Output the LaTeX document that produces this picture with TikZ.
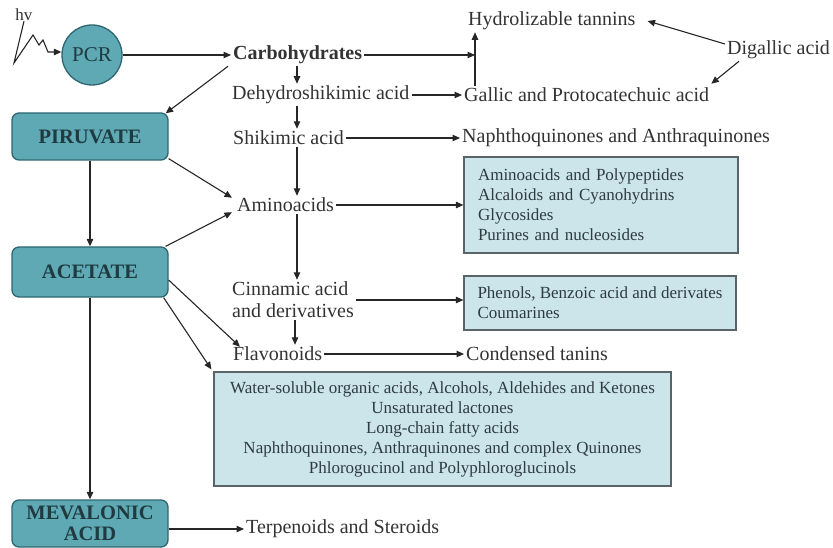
\documentclass[tikz,border=0pt]{standalone}
\usepackage{fontspec}
\setmainfont{Liberation Serif}
\usetikzlibrary{arrows.meta}
\definecolor{tealfill}{HTML}{5EA9B3}
\definecolor{tealline}{HTML}{2F6670}
\definecolor{boxfill}{HTML}{CCE5EA}
\definecolor{boxline}{HTML}{5A6468}
\definecolor{txt}{HTML}{333333}
\definecolor{boxtxt}{HTML}{2E3C42}
\definecolor{nodetxt}{HTML}{1F3A40}
\begin{document}
\begin{tikzpicture}[x=1pt,y=-1pt,
  >={Triangle[length=7.5pt,width=6.5pt]},
  conn/.style={draw=black!85,line width=1.1pt,->},
  lbl/.style={text=txt,font=\fontsize{20}{22}\selectfont,inner sep=2pt,anchor=west},
  lbltwo/.style={lbl,align=left,font=\fontsize{20}{22}\selectfont},
  rbox/.style={draw=tealline,fill=tealfill,line width=1.3pt,rounded corners=7pt,
    minimum width=156pt,text=nodetxt,font=\fontsize{20.5}{21}\selectfont\bfseries,align=center,inner sep=0pt},
  listbox/.style={draw=boxline,fill=boxfill,line width=1.2pt,text=boxtxt,
    font=\fontsize{17}{20}\selectfont,inner sep=0pt},
]
\useasboundingbox (0,0) rectangle (833,548);

% nodes
\node[text=txt,font=\fontsize{17}{20}\selectfont,inner sep=0pt] (hv) at (24,15) {hv};
\node[circle,draw=tealline,fill=tealfill,line width=1.3pt,minimum size=60pt,inner sep=0pt,
  text=nodetxt,font=\fontsize{21}{22}\selectfont] (pcr) at (92,55) {PCR};
\node[lbl,font=\fontsize{20}{22}\selectfont\bfseries] (carb) at (231,55) {Carbohydrates};
\node[lbl] (hydro) at (466,21) {Hydrolizable tannins};
\node[lbl] (digal) at (725,50) {Digallic acid};
\node[lbl] (dehyd) at (230,95) {Dehydroshikimic acid};
\node[lbl] (gallic) at (462,95) {Gallic and Protocatechuic acid};
\node[lbl] (shik) at (231,138) {Shikimic acid};
\node[lbl] (naph) at (460,138) {Naphthoquinones and Anthraquinones};
\node[lbl] (amino) at (235,205) {Aminoacids};
\node[lbltwo] (cinn) at (230,300) {Cinnamic acid\\and derivatives};
\node[lbl] (flav) at (231,354) {Flavonoids};
\node[lbl] (cond) at (464,354) {Condensed tanins};
\node[lbl] (terp) at (244,529) {Terpenoids and Steroids};

\node[rbox,minimum height=47pt] (piru) at (90,136.5) {PIRUVATE};
\node[rbox,minimum height=50pt] (acet) at (90,272) {ACETATE};
\node[rbox,minimum height=47pt] (mev) at (90,523.5) {MEVALONIC\\ACID};

\node[listbox,minimum width=274pt,minimum height=96pt,text width=246pt,align=left]
  (box1) at (601,205) {Aminoacids and Polypeptides\\Alcaloids and Cyanohydrins\\Glycosides\\Purines and nucleosides};
\node[listbox,minimum width=272pt,minimum height=54pt,align=left]
  (box2) at (600,303) {Phenols, Benzoic acid and derivates\\Coumarines};
\node[listbox,minimum width=457pt,minimum height=114pt,align=center]
  (box3) at (442.5,429) {Water-soluble organic acids, Alcohols, Aldehides and Ketones\\Unsaturated lactones\\Long-chain fatty acids\\Naphthoquinones, Anthraquinones and complex Quinones\\Phlorogucinol and Polyphloroglucinols};

% helper coordinates
\coordinate (vx) at (297,0);
\coordinate (jx) at (475,0);

% connectors
\draw[conn] (hv.south) -- (14,63) -- (33,35) -- (39,45) -- (43,40) -- (48,52) -- (pcr.west |- 0,52);
\draw[conn] (pcr.east) -- (carb.west);
\draw[conn] (carb.east) -- (carb.east -| jx);
\draw[conn] (gallic.north -| jx) -- (hydro.south -| jx);
\draw[conn] ([yshift=6pt]digal.west) -- ([xshift=10pt]hydro.east);
\draw[conn] ([xshift=14pt]digal.south west) -- ([yshift=2pt]gallic.north east);
\draw[conn] (dehyd.east) -- (gallic.west);
\draw[conn] (carb.south -| vx) -- (dehyd.north -| vx);
\draw[conn] (dehyd.south -| vx) -- (shik.north -| vx);
\draw[conn] (shik.east) -- (naph.west);
\draw[conn] (shik.south -| vx) -- (amino.north -| vx);
\draw[conn] (amino.east) -- (box1.west |- amino.east);
\draw[conn] (amino.south -| vx) -- (cinn.north -| vx);
\draw[conn] (cinn.east) -- (box2.west |- cinn.east);
\draw[conn] (cinn.south -| 295,0) -- (flav.north -| 295,0);
\draw[conn] (flav.east) -- (cond.west);

\draw[conn] ([xshift=-3pt]carb.south west) -- ([xshift=-3pt,yshift=-1pt]piru.north east);
\draw[conn] ([yshift=2pt]piru.south east) -- ([xshift=-3pt,yshift=-2pt]amino.north west);
\draw[conn] (piru.south) -- (acet.north);
\draw[conn] ([xshift=-3pt]acet.north east) -- ([xshift=-3pt,yshift=2pt]amino.south west);
\draw[conn] ([yshift=-8pt]acet.east) -- ([xshift=9pt,yshift=-2pt]flav.north west);
\draw[conn] ([xshift=-5pt]acet.south east) -- ([xshift=-2pt,yshift=2pt]box3.north west);
\draw[conn] (acet.south) -- (mev.north);
\draw[conn] (mev.east |- terp.west) -- (terp.west);
\end{tikzpicture}
\end{document}
